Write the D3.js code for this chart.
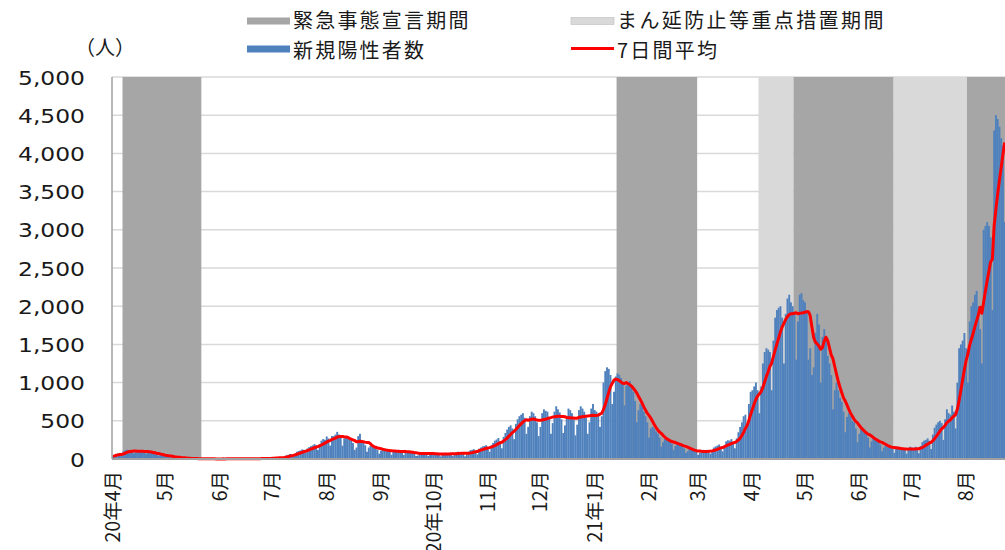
<!DOCTYPE html>
<html>
<head>
<meta charset="utf-8">
<script src="https://cdn.jsdelivr.net/npm/d3@7"></script>
<style>
  html, body { margin: 0; padding: 0; background: #fff; }
  svg { display: block; }
</style>
</head>
<body>
<svg id="chart" width="1005" height="550"></svg>
<script>
// Daily new positive cases, one array per month, starting 2020-04-01
const startDate = "2020-04-01";
const cases2020Apr = [35, 48, 62, 72, 80, 66, 100, 112, 120, 118, 100, 102, 70, 100, 110, 108, 112, 98, 96, 65, 92, 90, 85, 78, 64, 58, 40, 52, 50, 46];
const cases2020May = [40, 34, 30, 18, 26, 24, 22, 18, 14, 12, 6, 10, 9, 8, 6, 5, 4, 2, 4, 3, 4, 2, 3, 1, 0, 2, 1, 3, 2, 1, 0];
const cases2020Jun = [1, 2, 3, 1, 4, 2, 1, 0, 3, 2, 4, 3, 5, 2, 1, 4, 3, 5, 4, 6, 5, 2, 6, 5, 8, 7, 10, 9, 4, 12];
const cases2020Jul = [14, 18, 16, 22, 20, 12, 20, 38, 48, 55, 66, 62, 40, 70, 95, 105, 112, 125, 120, 78, 138, 155, 168, 178, 195, 182, 118, 198, 240, 262, 250];
const cases2020Aug = [295, 270, 175, 300, 300, 320, 355, 320, 290, 175, 270, 280, 300, 265, 250, 210, 120, 150, 300, 330, 250, 215, 180, 95, 150, 175, 170, 160, 145, 120, 70];
const cases2020Sep = [110, 125, 130, 122, 118, 100, 55, 95, 110, 115, 112, 108, 95, 52, 90, 100, 98, 95, 88, 70, 40, 45, 85, 90, 88, 82, 70, 40, 60, 80];
const cases2020Oct = [78, 75, 72, 60, 35, 65, 78, 80, 75, 75, 62, 38, 68, 85, 95, 92, 90, 70, 35, 60, 95, 115, 120, 128, 105, 60, 135, 150, 165, 170, 180];
const cases2020Nov = [150, 95, 180, 210, 240, 255, 275, 230, 140, 290, 340, 385, 420, 440, 400, 260, 460, 520, 560, 580, 600, 540, 330, 420, 560, 620, 600, 560, 480, 300];
const cases2020Dec = [420, 600, 650, 630, 620, 540, 330, 470, 620, 690, 650, 610, 520, 340, 440, 560, 660, 640, 600, 520, 310, 450, 640, 690, 660, 620, 540, 330, 480, 660, 720];
const cases2021Jan = [640, 620, 570, 420, 560, 1000, 1150, 1200, 1180, 1100, 720, 880, 1080, 1120, 1100, 1060, 980, 700, 960, 1000, 1020, 960, 880, 760, 480, 640, 720, 700, 620, 560, 480];
const cases2021Feb = [280, 400, 420, 400, 360, 330, 280, 160, 220, 260, 270, 250, 240, 200, 120, 170, 200, 210, 190, 170, 140, 80, 100, 130, 135, 120, 110, 90];
const cases2021Mar = [55, 85, 110, 120, 115, 120, 100, 70, 110, 150, 165, 175, 190, 160, 100, 180, 230, 245, 240, 260, 220, 140, 270, 350, 420, 480, 560, 580, 420, 720, 880];
const cases2021Apr = [900, 950, 1000, 900, 600, 950, 1250, 1400, 1450, 1430, 1400, 900, 1550, 1850, 1950, 1980, 2000, 1850, 1250, 1900, 2100, 2150, 2050, 2000, 1900, 1300, 1800, 2150, 2170, 2080];
const cases2021May = [2050, 1950, 1300, 1450, 1100, 1200, 1650, 1900, 1760, 1000, 1600, 1700, 1550, 1350, 1250, 1100, 650, 900, 1000, 900, 800, 750, 620, 350, 550, 600, 560, 500, 480, 400, 220];
const cases2021Jun = [330, 400, 380, 340, 330, 280, 150, 230, 270, 260, 240, 230, 190, 100, 150, 180, 170, 165, 160, 140, 80, 130, 160, 150, 140, 145, 120, 70, 120, 160];
const cases2021Jul = [150, 140, 160, 135, 75, 170, 220, 240, 250, 270, 240, 130, 320, 410, 450, 480, 500, 470, 250, 520, 650, 600, 580, 700, 620, 400, 1000, 1450, 1500, 1550, 1650];
const cases2021Aug = [1450, 1000, 1800, 2000, 2050, 2150, 2200, 2000, 1700, 1250, 3000, 3050, 3100, 3050, 2900, 1950, 4300, 4500, 4450, 4350, 4200, 4100, 3100];

// Month labels on the category axis (one per first day of month)
const monthLabels = ["20年4月", "5月", "6月", "7月", "8月", "9月", "20年10月", "11月", "12月",
                     "21年1月", "2月", "3月", "4月", "5月", "6月", "7月", "8月"];
const yTickValues = [0, 500, 1000, 1500, 2000, 2500, 3000, 3500, 4000, 4500, 5000];

// State of emergency and priority-measure periods (inclusive dates)
const emergencyPeriods = [["2020-04-07", "2020-05-21"], ["2021-01-14", "2021-02-28"],
                          ["2021-04-25", "2021-06-20"], ["2021-08-02", "2021-08-23"]];
const priorityPeriods = [["2021-04-05", "2021-04-24"], ["2021-06-21", "2021-08-01"]];

const legendEmergency = "緊急事態宣言期間";
const legendPriority = "まん延防止等重点措置期間";
const legendCases = "新規陽性者数";
const legendAverage = "7日間平均";
const unitLabel = "（人）";

// ---- assemble the daily series ----
const daily = [].concat(cases2020Apr, cases2020May, cases2020Jun, cases2020Jul, cases2020Aug,
  cases2020Sep, cases2020Oct, cases2020Nov, cases2020Dec, cases2021Jan, cases2021Feb,
  cases2021Mar, cases2021Apr, cases2021May, cases2021Jun, cases2021Jul, cases2021Aug);

const parse = d3.utcParse("%Y-%m-%d");
const t0 = parse(startDate);
const dayIndex = s => d3.utcDay.count(t0, parse(s));

// trailing 7-day mean of the daily counts
const avg7 = daily.map((_, i) => d3.mean(daily.slice(Math.max(0, i - 6), i + 1)));

const svg = d3.select("#chart");
const FONT = "'Noto Sans CJK JP', 'Noto Sans', sans-serif";

const plot = { left: 112, right: 1005.5, top: 77, bottom: 459 };
const x = d3.scaleBand().domain(d3.range(daily.length)).range([plot.left, plot.right]).padding(0);
const y = d3.scaleLinear().domain([0, 5000]).range([plot.bottom, plot.top]);
const bw = x.bandwidth();

// gridlines
svg.append("g").selectAll("line").data(yTickValues.filter(v => v > 0)).join("line")
  .attr("x1", plot.left).attr("x2", plot.right)
  .attr("y1", d => y(d)).attr("y2", d => y(d))
  .attr("stroke", "#d9d9d9").attr("stroke-width", 1.5);

// period shading
function shade(periods, color) {
  svg.append("g").selectAll("rect").data(periods).join("rect")
    .attr("x", d => x(dayIndex(d[0])))
    .attr("width", d => x(dayIndex(d[1])) + bw - x(dayIndex(d[0])))
    .attr("y", y(5000)).attr("height", y(0) - y(5000))
    .attr("fill", color);
}
shade(priorityPeriods, "#d9d9d9");
shade(emergencyPeriods, "#a6a6a6");

// daily bars
svg.append("g").selectAll("rect").data(daily).join("rect")
  .attr("x", (d, i) => x(i))
  .attr("width", bw + 0.15)
  .attr("y", d => y(d))
  .attr("height", d => y(0) - y(d))
  .attr("fill", "#4f81bd");

// 7-day average line
svg.append("path").datum(avg7)
  .attr("fill", "none").attr("stroke", "#ff0000").attr("stroke-width", 3)
  .attr("stroke-linejoin", "round")
  .attr("d", d3.line().x((d, i) => x(i) + bw / 2).y(d => y(d)));

// axes lines
svg.append("line").attr("x1", plot.left).attr("x2", plot.left)
  .attr("y1", y(5000)).attr("y2", y(0)).attr("stroke", "#a0a0a0").attr("stroke-width", 1.5);
svg.append("line").attr("x1", plot.left).attr("x2", plot.right)
  .attr("y1", y(0)).attr("y2", y(0)).attr("stroke", "#a0a0a0").attr("stroke-width", 2);

// y axis labels
const yAxis = svg.append("g").attr("transform", `translate(${plot.left},0)`)
  .call(d3.axisLeft(y).tickValues(yTickValues).tickFormat(d3.format(",")).tickSize(0));
yAxis.select(".domain").remove();
yAxis.selectAll("text")
  .attr("x", null).attr("dy", "0.36em")
  .attr("transform", "translate(-27,0) scale(1.2,1)")
  .attr("font-family", "'DejaVu Sans', sans-serif").attr("font-size", 19.5)
  .attr("fill", "#1a1a1a").attr("text-anchor", "end");

// x axis month labels
const monthStarts = d3.utcMonth.range(t0, d3.utcDay.offset(t0, daily.length)).map(d => d3.utcDay.count(t0, d));
const xAxis = svg.append("g").attr("transform", `translate(0,${plot.bottom})`)
  .call(d3.axisBottom(x).tickValues(monthStarts).tickFormat((d, i) => monthLabels[i]).tickSize(0));
xAxis.select(".domain").remove();
xAxis.selectAll(".tick").attr("transform", d => `translate(${x(d) + bw / 2},0)`);
xAxis.selectAll("text")
  .attr("y", null).attr("dy", null)
  .attr("transform", "translate(0,12) rotate(-90)")
  .attr("dy", "0.36em")
  .attr("text-anchor", "end")
  .attr("font-family", FONT).attr("font-size", 19.5).attr("fill", "#1a1a1a");

// legend
const lg = svg.append("g").attr("font-family", FONT).attr("font-size", 20).attr("fill", "#1a1a1a");
lg.append("rect").attr("x", 247).attr("y", 17.5).attr("width", 43).attr("height", 7).attr("fill", "#a6a6a6");
lg.append("text").attr("x", 293).attr("y", 28).attr("letter-spacing", 2.2).text(legendEmergency);
lg.append("rect").attr("x", 571).attr("y", 17.5).attr("width", 43).attr("height", 7).attr("fill", "#d9d9d9")
  .attr("stroke", "#c8c8c8").attr("stroke-width", 0.8);
lg.append("text").attr("x", 617).attr("y", 28).attr("letter-spacing", 2.4).text(legendPriority);
lg.append("rect").attr("x", 247).attr("y", 45.5).attr("width", 43).attr("height", 7).attr("fill", "#4f81bd");
lg.append("text").attr("x", 293).attr("y", 58).attr("letter-spacing", 2.2).text(legendCases);
lg.append("line").attr("x1", 571).attr("x2", 614).attr("y1", 48.5).attr("y2", 48.5)
  .attr("stroke", "#ff0000").attr("stroke-width", 3);
lg.append("text").attr("x", 617).attr("y", 58).attr("letter-spacing", 2.2).text(legendAverage);
lg.append("text").attr("x", 105).attr("y", 55).attr("text-anchor", "middle").text(unitLabel);
</script>
</body>
</html>
